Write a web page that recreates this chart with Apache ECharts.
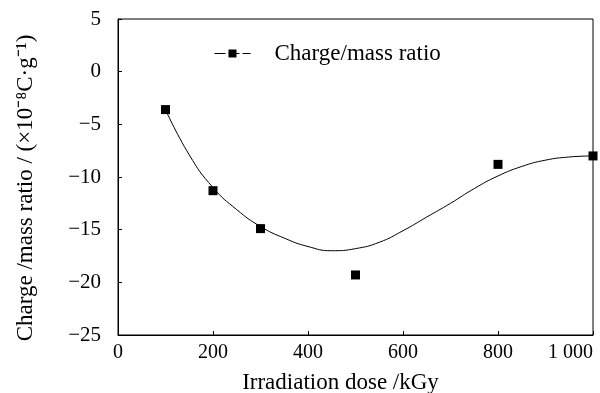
<!DOCTYPE html>
<html>
<head>
<meta charset="utf-8">
<script src="https://cdn.jsdelivr.net/npm/echarts@6/dist/echarts.min.js"></script>
<style>
html,body{margin:0;padding:0;background:#fff;}
#chart{width:600px;height:393px;}
</style>
</head>
<body>
<div id="chart"></div>
<script>
// measured points
const doses = [100, 200, 300, 500, 800, 1000];
const ratios = [-3.6, -11.3, -14.9, -19.3, -8.8, -8.0];
// fitted curve
const fitDoses = [100, 150, 200, 250, 300, 350, 400, 450, 500, 550, 600, 650, 700, 750, 800, 850, 900, 950, 1000];
const fitRatios = [-3.6, -7.9, -11.0, -13.1, -14.7, -15.8, -16.6, -17.0, -16.8, -16.2, -15.1, -13.8, -12.5, -11.1, -9.9, -9.0, -8.4, -8.1, -8.0];

const font = 'Liberation Serif';
const pair = (xs, ys) => xs.map((x, i) => [x, ys[i]]);

const chart = echarts.init(document.getElementById('chart'));
chart.setOption({
    animation: false,
    grid: {left: 118, right: 7, top: 19, bottom: 58, show: true, borderColor: '#000', borderWidth: 1,
        outerBoundsMode: 'none'},
    legend: {
        data: ['Charge/mass ratio'],
        left: 209, top: 37,
        itemWidth: 36, itemHeight: 10,
        textStyle: {fontFamily: font, fontSize: 23, color: '#000', padding: [0, 0, 0, 19]},
        lineStyle: {opacity: 1, width: 1, type: [11, 3], color: '#000'}
    },
    xAxis: {
        type: 'value', min: 0, max: 1000, interval: 200,
        name: 'Irradiation dose /kGy', nameLocation: 'middle', nameGap: 36,
        nameTextStyle: {fontFamily: font, fontSize: 23, color: '#000', padding: [0, 30, 0, 0]},
        axisLine: {onZero: false, lineStyle: {color: '#000'}},
        axisTick: {inside: true, length: 4, lineStyle: {color: '#000'}},
        axisLabel: {fontFamily: font, fontSize: 20, color: '#000', margin: 8, alignMaxLabel: 'right',
            formatter: v => v === 1000 ? '1 000' : String(v)},
        splitLine: {show: false}
    },
    yAxis: {
        type: 'value', min: -25, max: 5, interval: 5,
        name: 'Charge /mass ratio / (×10⁻⁸C·g⁻¹)', nameLocation: 'middle', nameGap: 81,
        nameTextStyle: {fontFamily: font, fontSize: 23, color: '#000', padding: [0, 22, 0, 0]},
        axisLine: {onZero: false, lineStyle: {color: '#000'}},
        axisTick: {inside: true, length: 4, lineStyle: {color: '#000'}},
        axisLabel: {fontFamily: font, fontSize: 21, color: '#000', margin: 17,
            formatter: v => String(v).replace('-', '−')},
        splitLine: {show: false}
    },
    series: [
        {
            name: 'fit', type: 'line', smooth: true, symbol: 'none',
            data: pair(fitDoses, fitRatios),
            lineStyle: {color: '#000', width: 1}
        },
        {
            name: 'Charge/mass ratio', type: 'line', symbol: 'rect', symbolSize: 9,
            data: pair(doses, ratios),
            itemStyle: {color: '#000'},
            lineStyle: {opacity: 0}
        }
    ]
});
</script>
</body>
</html>
